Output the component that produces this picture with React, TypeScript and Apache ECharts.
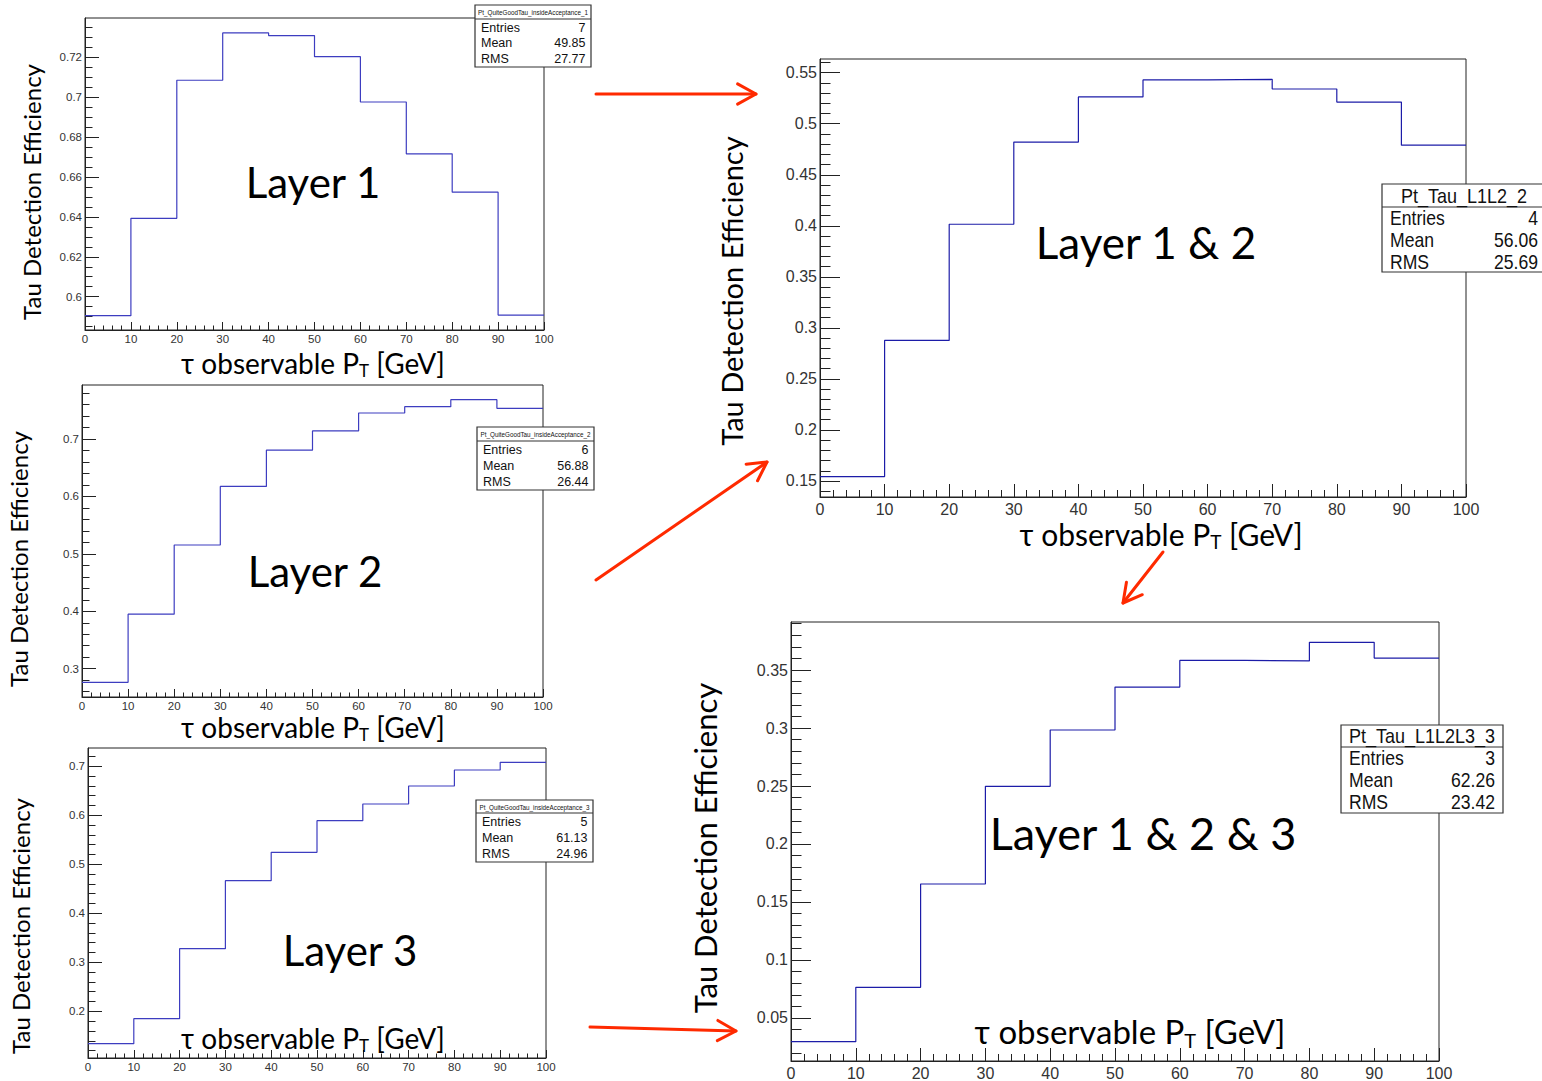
import React, { useEffect, useRef } from "react";
import * as echarts from "echarts";

// ---------- data ----------
const binEdges = [0, 10, 20, 30, 40, 50, 60, 70, 80, 90, 100];
const layer1 = [0.5905, 0.6393, 0.7085, 0.7322, 0.7309, 0.7203, 0.6976, 0.6716, 0.6524, 0.5908];
const layer2 = [0.2763, 0.3949, 0.5153, 0.6172, 0.6803, 0.7139, 0.7451, 0.7561, 0.7683, 0.7532];
const layer3 = [0.134, 0.185, 0.3279, 0.4667, 0.5245, 0.5891, 0.6231, 0.6599, 0.6925, 0.7082];
const layer12 = [0.1543, 0.2877, 0.4015, 0.482, 0.5262, 0.5429, 0.5435, 0.534, 0.5212, 0.479];
const layer123 = [0.0296, 0.0764, 0.1655, 0.2497, 0.2983, 0.3353, 0.3583, 0.3578, 0.3739, 0.3603];

const yTicks1 = [0.6, 0.62, 0.64, 0.66, 0.68, 0.7, 0.72];
const yTicks2 = [0.3, 0.4, 0.5, 0.6, 0.7];
const yTicks3 = [0.2, 0.3, 0.4, 0.5, 0.6, 0.7];
const yTicks12 = [0.15, 0.2, 0.25, 0.3, 0.35, 0.4, 0.45, 0.5, 0.55];
const yTicks123 = [0.05, 0.1, 0.15, 0.2, 0.25, 0.3, 0.35];

const statNames = ["Entries", "Mean", "RMS"];
const stats1 = ["7", "49.85", "27.77"];
const stats2 = ["6", "56.88", "26.44"];
const stats3 = ["5", "61.13", "24.96"];
const stats12 = ["4", "56.06", "25.69"];
const stats123 = ["3", "62.26", "23.42"];
const histNames = [
  "Pt_QuiteGoodTau_insideAcceptance_1",
  "Pt_QuiteGoodTau_insideAcceptance_2",
  "Pt_QuiteGoodTau_insideAcceptance_3",
  "Pt_Tau_L1L2_2",
  "Pt_Tau_L1L2L3_3",
];
const layerLabels = ["Layer 1", "Layer 2", "Layer 3", "Layer 1 & 2", "Layer 1 & 2 & 3"];
const yTitle = "Tau Detection Efficiency";

// ---------- styling ----------
const FONT_AXIS = "'Liberation Sans', Arial, Helvetica, sans-serif";
const FONT_TITLE = "Lato, 'Open Sans', sans-serif";
const RED = "#ff2a00";

const panels = [
  {
    values: layer1, yMin: 0.5833, yMax: 0.7397, yTicks: yTicks1, minorStep: 0.005,
    grid: { left: 85, top: 18, width: 459, height: 312 }, big: false, color: "#3d3dc0",
    stats: stats1, box: { x: 475, y: 5, w: 116, h: 62, line: 19, rows: [28, 43, 59] },
    yTitlePos: [31, 192], yTitleSize: 24, xTitlePos: [313, 363], xTitleSize: 28,
    layerPos: [313, 182], layerSize: 42,
  },
  {
    values: layer2, yMin: 0.2508, yMax: 0.7938, yTicks: yTicks2, minorStep: 0.02,
    grid: { left: 82, top: 385, width: 461, height: 312 }, big: false, color: "#3d3dc0",
    stats: stats2, box: { x: 477, y: 427, w: 117, h: 63, line: 441, rows: [450, 466, 482] },
    yTitlePos: [18, 559], yTitleSize: 24, xTitlePos: [313, 727], xTitleSize: 28,
    layerPos: [315, 571], layerSize: 42,
  },
  {
    values: layer3, yMin: 0.1048, yMax: 0.7374, yTicks: yTicks3, minorStep: 0.02,
    grid: { left: 88, top: 748, width: 458, height: 310 }, big: false, color: "#3d3dc0",
    stats: stats3, box: { x: 476, y: 800, w: 117, h: 62, line: 813, rows: [822, 838, 854] },
    yTitlePos: [20, 926], yTitleSize: 24, xTitlePos: [313, 1038], xTitleSize: 28,
    layerPos: [350, 950], layerSize: 42,
  },
  {
    values: layer12, yMin: 0.1343, yMax: 0.5634, yTicks: yTicks12, minorStep: 0.01,
    grid: { left: 820, top: 59, width: 646, height: 438 }, big: true, color: "#1c1ca8",
    stats: stats12, box: { x: 1382, y: 184, w: 164, h: 88, line: 207, rows: [218, 240, 262] },
    yTitlePos: [731, 291], yTitleSize: 29, xTitlePos: [1161, 534], xTitleSize: 30,
    layerPos: [1146, 242], layerSize: 44,
  },
  {
    values: layer123, yMin: 0.0129, yMax: 0.3914, yTicks: yTicks123, minorStep: 0.01,
    grid: { left: 791, top: 622, width: 648, height: 439 }, big: true, color: "#1c1ca8",
    stats: stats123, box: { x: 1341, y: 725, w: 162, h: 88, line: 747, rows: [758, 780, 802] },
    yTitlePos: [705, 848], yTitleSize: 31, xTitlePos: [1130, 1031], xTitleSize: 33,
    layerPos: [1143, 833], layerSize: 45,
  },
];

function minorTicks(min: number, max: number, step: number) {
  const out: number[] = [];
  const k0 = Math.ceil(min / step - 1e-9);
  const k1 = Math.floor(max / step + 1e-9);
  for (let k = k0; k <= k1; k++) out.push(+(k * step).toFixed(4));
  return out;
}

function fmt(v: number) {
  return String(+(+v).toFixed(3));
}

function arrow(x1: number, y1: number, x2: number, y2: number, L = 21, phi = 0.5) {
  const th = Math.atan2(y2 - y1, x2 - x1);
  const a1 = [x2 - L * Math.cos(th - phi), y2 - L * Math.sin(th - phi)];
  const a2 = [x2 - L * Math.cos(th + phi), y2 - L * Math.sin(th + phi)];
  return [
    { type: "line", shape: { x1, y1, x2, y2 }, style: { stroke: RED, lineWidth: 3, lineCap: "round" } },
    {
      type: "polyline",
      shape: { points: [a1, [x2, y2], a2] },
      style: { stroke: RED, lineWidth: 3, fill: null, lineCap: "round", lineJoin: "round" },
    },
  ];
}

function buildOption() {
  const grids: any[] = [];
  const xAxes: any[] = [];
  const yAxes: any[] = [];
  const series: any[] = [];
  const graphics: any[] = [];

  panels.forEach((p, i) => {
    const big = p.big;
    const labelFont = big ? 16 : 11.5;
    const axisColor = "#222";
    grids.push({
      ...p.grid,
      show: true,
      borderColor: "#222",
      borderWidth: 1,
      backgroundColor: "transparent",
      containLabel: false,
      outerBoundsMode: "none",
    });
    xAxes.push({
      type: "value",
      gridIndex: i,
      min: 0,
      max: 100,
      interval: 10,
      position: "bottom",
      axisLine: { show: true, onZero: false, lineStyle: { color: axisColor, width: 1 } },
      axisTick: { show: true, inside: true, length: big ? 13 : 8, lineStyle: { color: axisColor } },
      minorTick: { show: true, splitNumber: 5, length: big ? 7 : 4.5, lineStyle: { color: axisColor } },
      axisLabel: {
        fontSize: labelFont,
        color: "#333",
        fontFamily: FONT_AXIS,
        margin: big ? 4 : 3,
        formatter: (v: number) => fmt(v),
      },
      splitLine: { show: false },
      minorSplitLine: { show: false },
    });
    const base = {
      type: "value",
      gridIndex: i,
      min: p.yMin,
      max: p.yMax,
      position: "left",
      splitLine: { show: false },
    };
    yAxes.push({
      ...base,
      axisLine: { show: true, onZero: false, lineStyle: { color: axisColor, width: 1 } },
      axisTick: {
        show: true,
        inside: true,
        length: big ? 20 : 14,
        customValues: p.yTicks,
        lineStyle: { color: axisColor },
      },
      axisLabel: {
        show: true,
        customValues: p.yTicks,
        fontSize: labelFont,
        color: "#333",
        fontFamily: FONT_AXIS,
        margin: 3,
        formatter: (v: number) => fmt(v),
      },
    });
    yAxes.push({
      ...base,
      axisLine: { show: false },
      axisTick: {
        show: true,
        inside: true,
        length: big ? 10.5 : 7.5,
        customValues: minorTicks(p.yMin, p.yMax, p.minorStep),
        lineStyle: { color: axisColor },
      },
      axisLabel: { show: false },
    });
    series.push({
      type: "line",
      xAxisIndex: i,
      yAxisIndex: 2 * i,
      data: binEdges.map((x, k) => [x, p.values[Math.min(k, p.values.length - 1)]]),
      step: "end",
      symbol: "none",
      silent: true,
      clip: true,
      lineStyle: { color: p.color, width: 1.2 },
    });

    // axis titles
    graphics.push({
      type: "text",
      x: p.yTitlePos[0],
      y: p.yTitlePos[1],
      rotation: Math.PI / 2,
      style: {
        text: yTitle,
        fontFamily: FONT_TITLE,
        fontSize: p.yTitleSize,
        fill: "#000",
        align: "center",
        verticalAlign: "middle",
      },
      z: 10,
    });
    const xs = p.xTitleSize;
    graphics.push({
      type: "text",
      x: p.xTitlePos[0],
      y: p.xTitlePos[1],
      style: {
        text: "{a|τ observable P}{s|T}{a| [GeV]}",
        align: "center",
        verticalAlign: "middle",
        rich: {
          a: { fontFamily: FONT_TITLE, fontSize: xs, fill: "#000" },
          s: {
            fontFamily: FONT_TITLE,
            fontSize: Math.round(xs * 0.62),
            fill: "#000",
            padding: [Math.round(xs * 0.5), 0, 0, 0],
          },
        },
      },
      z: 10,
    });
    // layer label
    graphics.push({
      type: "text",
      x: p.layerPos[0],
      y: p.layerPos[1],
      style: {
        text: layerLabels[i],
        fontFamily: FONT_TITLE,
        fontSize: p.layerSize,
        fill: "#000",
        align: "center",
        verticalAlign: "middle",
      },
      z: 10,
    });
    // stats box
    const b = p.box;
    const sSize = big ? 20 : 12.5;
    const sx = big ? 0.88 : 1;
    graphics.push({
      type: "rect",
      shape: { x: b.x, y: b.y, width: b.w, height: b.h },
      style: { fill: "#fff", stroke: "#333", lineWidth: 1.2 },
      z: 20,
    });
    graphics.push({
      type: "line",
      shape: { x1: b.x, y1: b.line, x2: b.x + b.w, y2: b.line },
      style: { stroke: "#333", lineWidth: 1.2 },
      z: 21,
    });
    graphics.push({
      type: "text",
      x: b.x + b.w / 2,
      y: (b.y + b.line) / 2 + 0.5,
      scaleX: big ? 0.9 : 1,
      style: {
        text: histNames[i],
        fontFamily: FONT_AXIS,
        fontSize: big ? 20 : 6.3,
        fill: "#111",
        align: "center",
        verticalAlign: "middle",
      },
      z: 21,
    });
    statNames.forEach((n, k) => {
      graphics.push({
        type: "text",
        x: b.x + (big ? 8 : 6),
        y: b.rows[k],
        scaleX: sx,
        style: { text: n, fontFamily: FONT_AXIS, fontSize: sSize, fill: "#111", align: "left", verticalAlign: "middle" },
        z: 21,
      });
      graphics.push({
        type: "text",
        x: b.x + b.w - (big ? 8 : 5.5),
        y: b.rows[k],
        scaleX: sx,
        style: { text: p.stats[k], fontFamily: FONT_AXIS, fontSize: sSize, fill: "#111", align: "right", verticalAlign: "middle" },
        z: 21,
      });
    });
  });

  // red arrows
  graphics.push(...arrow(596, 94, 756, 94));
  graphics.push(...arrow(596, 580, 767, 462));
  graphics.push(...arrow(1163, 552, 1123, 603));
  graphics.push(...arrow(590, 1027, 736, 1031));

  return {
    animation: false,
    backgroundColor: "#fff",
    grid: grids,
    xAxis: xAxes,
    yAxis: yAxes,
    series,
    graphic: { elements: graphics },
  };
}

export default function App() {
  const ref = useRef<HTMLDivElement>(null);
  useEffect(() => {
    if (!ref.current) return;
    const chart = echarts.init(ref.current, null, { renderer: "svg" });
    chart.setOption(buildOption() as any);
    return () => chart.dispose();
  }, []);
  return (
    <div
      ref={ref}
      style={{ position: "fixed", left: 0, top: 0, width: 1542, height: 1081, background: "#fff" }}
    />
  );
}
